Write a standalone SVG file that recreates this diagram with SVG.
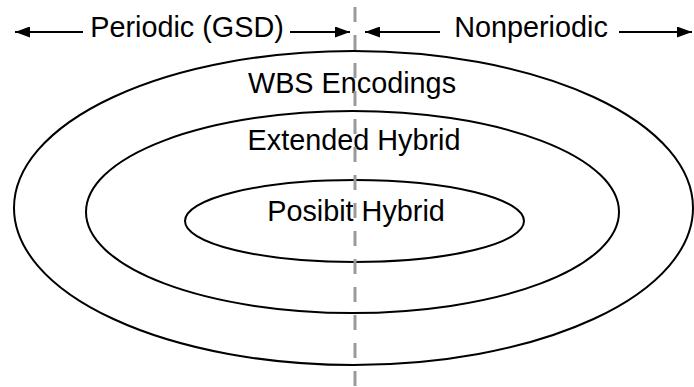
<svg xmlns="http://www.w3.org/2000/svg" width="694" height="387" viewBox="0 0 694 387">
<style>
.t{font-family:"Liberation Sans",Arial,sans-serif;font-size:28.8px;fill:#000;text-anchor:middle}
.e{fill:none;stroke:#000;stroke-width:2}
.a{stroke:#000;stroke-width:2;fill:none}
</style>
<defs>
<marker id="ah" viewBox="0 0 15 11" refX="15" refY="5.5" markerWidth="15" markerHeight="11" markerUnits="userSpaceOnUse" orient="auto">
<path d="M0,0 L15,5.5 L0,11 Z" fill="#000"/>
</marker>
</defs>
<rect width="694" height="387" fill="#fff"/>
<g id="outer"><ellipse class="e" cx="353.5" cy="208" rx="339.5" ry="157"/><text class="t" x="352" y="93">WBS Encodings</text></g>
<g id="middle"><ellipse class="e" cx="352.5" cy="212" rx="266.5" ry="101"/><text class="t" x="354" y="150">Extended Hybrid</text></g>
<g id="inner"><ellipse class="e" cx="354.5" cy="221" rx="169.5" ry="41"/><text class="t" x="356" y="221">Posibit Hybrid</text></g>
<g id="labels">
<text class="t" x="187" y="37">Periodic (GSD)</text>
<text class="t" x="531" y="37">Nonperiodic</text>
</g>
<g id="connectors">
<line x1="355" y1="7" x2="355" y2="387" stroke="#9a9a9a" stroke-width="3" stroke-dasharray="15 13"/>
<line class="a" x1="83" y1="32" x2="15" y2="32" marker-end="url(#ah)"/>
<line class="a" x1="290" y1="32" x2="350" y2="32" marker-end="url(#ah)"/>
<line class="a" x1="440" y1="32" x2="365" y2="32" marker-end="url(#ah)"/>
<line class="a" x1="619" y1="32" x2="692" y2="32" marker-end="url(#ah)"/>
</g>
</svg>
